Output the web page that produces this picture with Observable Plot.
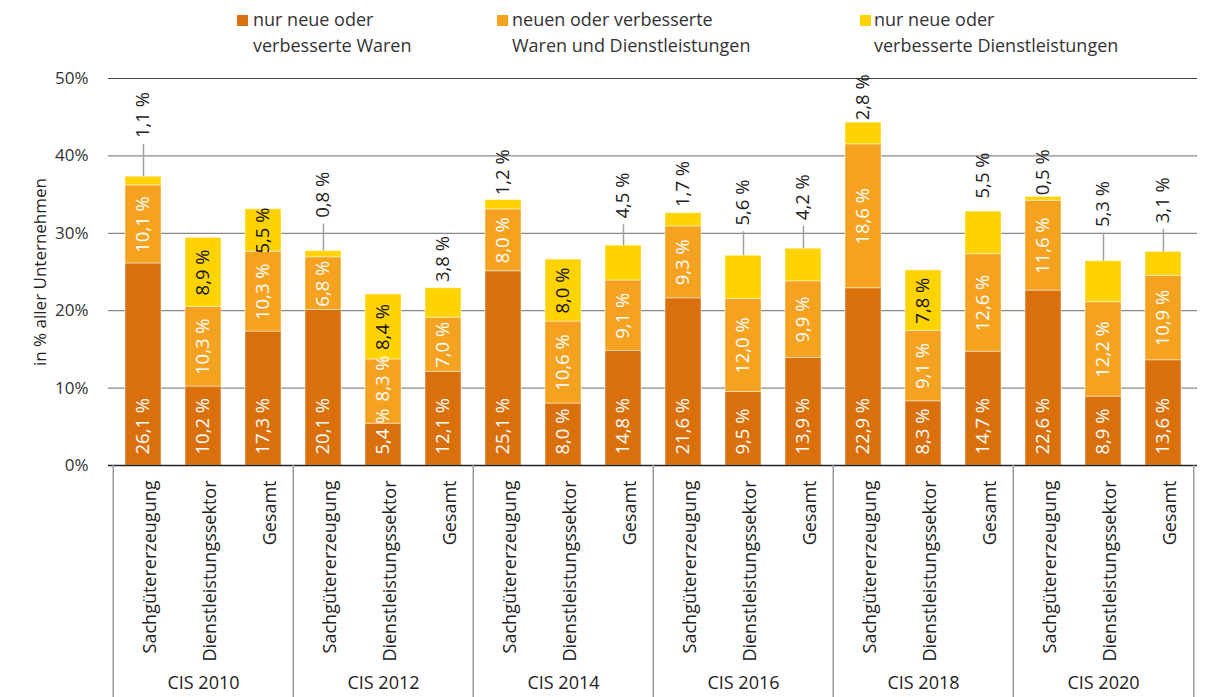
<!DOCTYPE html>
<html>
<head>
<meta charset="utf-8">
<script src="https://cdn.jsdelivr.net/npm/d3@7"></script>
<script src="https://cdn.jsdelivr.net/npm/@observablehq/plot@0.6"></script>
<style>
  html, body { margin: 0; padding: 0; background: #fff; }
  body { font-family: "Open Sans", sans-serif; color: #333; width: 1207px; height: 697px; overflow: hidden; }
  #legend { position: relative; height: 65px; font-size: 18px; }
  .sw { position: absolute; top: 15px; width: 11px; height: 11px; }
  .lt { position: absolute; top: 6px; line-height: 26px; white-space: nowrap; color: #333; }
  #chart svg { display: block; }
</style>
</head>
<body>
<div id="legend"></div>
<div id="chart"></div>
<script>
// ---- data ----
const groups = ["CIS 2010", "CIS 2012", "CIS 2014", "CIS 2016", "CIS 2018", "CIS 2020"];
const sectors = ["Sachgütererzeugung", "Dienstleistungssektor", "Gesamt"];
const seriesNames = [
  "nur neue oder verbesserte Waren",
  "neuen oder verbesserte Waren und Dienstleistungen",
  "nur neue oder verbesserte Dienstleistungen"
];
const legendLines = [
  ["nur neue oder", "verbesserte Waren"],
  ["neuen oder verbesserte", "Waren und Dienstleistungen"],
  ["nur neue oder", "verbesserte Dienstleistungen"]
];
// values per group, in order Sachgütererzeugung, Dienstleistungssektor, Gesamt
const onlyGoods        = [26.1, 10.2, 17.3,  20.1, 5.4, 12.1,  25.1, 8.0, 14.8,  21.6, 9.5, 13.9,  22.9, 8.3, 14.7,  22.6, 8.9, 13.6];
const goodsAndServices = [10.1, 10.3, 10.3,   6.8, 8.3,  7.0,   8.0, 10.6, 9.1,   9.3, 12.0, 9.9,  18.6, 9.1, 12.6,  11.6, 12.2, 10.9];
const onlyServices     = [ 1.1,  8.9,  5.5,   0.8, 8.4,  3.8,   1.2, 8.0,  4.5,   1.7, 5.6,  4.2,   2.8, 7.8,  5.5,   0.5, 5.3,  3.1];
const yTicks = [0, 10, 20, 30, 40, 50];
// callout lift of the "nur Dienstleistungen" labels above the bar top (percentage points; 0 = label inside segment)
const servicesLabelLift = [5.0, 0, 0,  4.3, 0, 0.8,  0.6, 0, 3.5,  0.8, 3.9, 3.7,  0.3, 0, 1.7,  0.2, 4.4, 3.7];
// nudge of the middle-series labels (percentage points) where they would collide with the label below
const midLabelNudge = [0, 0, 0,  0, 1.7, 0,  0, 0, 0,  0, 0, 0,  0, 0, 0,  0, 0, 0];

// ---- styling ----
const colors = ["#D9700B", "#F4A21F", "#FFD300"];
const W = 1207, H = 632, ML = 108, MR = 10, MT = 13, MB = 232;
const LBL = 18.5;

// ---- legend ----
const legendPos = [[237, 253], [497, 512], [860, 874]];
const legend = document.getElementById("legend");
legendLines.forEach((lines, i) => {
  const sw = document.createElement("div");
  sw.className = "sw"; sw.style.left = legendPos[i][0] + "px"; sw.style.background = colors[i];
  const t = document.createElement("div");
  t.className = "lt"; t.style.left = legendPos[i][1] + "px";
  t.innerHTML = lines.join("<br>");
  legend.appendChild(sw); legend.appendChild(t);
});

// ---- build table ----
const keys = groups.flatMap(g => sectors.map(s => `${g}|${s}`));
const seriesValues = [onlyGoods, goodsAndServices, onlyServices];
const rows = [];
keys.forEach((k, i) => {
  let base = 0;
  seriesValues.forEach((vals, s) => {
    rows.push({key: k, series: seriesNames[s], si: s, value: vals[i], base,
      lift: s === 2 ? servicesLabelLift[i] : 0, nudge: s === 1 ? midLabelNudge[i] : 0});
    base += vals[i];
  });
});
const totals = keys.map((k, i) => ({key: k, value: onlyServices[i], total: onlyGoods[i] + goodsAndServices[i] + onlyServices[i], lift: servicesLabelLift[i]}));
const fmt = v => v.toFixed(1).replace(".", ",") + " %";

const step = (W - ML - MR) / keys.length;
const groupFirst = groups.map(g => `${g}|${sectors[0]}`);
const groupMid = groups.map(g => `${g}|${sectors[1]}`);
const lastKey = [keys[keys.length - 1]];

const darkRows = rows.filter(d => d.si === 0);
const midRows = rows.filter(d => d.si === 1);
const yInside = rows.filter(d => d.si === 2 && d.lift === 0);
const yOutside = totals.filter(d => d.lift > 0);
const leaders = totals.filter(d => d.lift > 2);

const chart = Plot.plot({
  width: W, height: H,
  marginLeft: ML, marginRight: MR, marginTop: MT, marginBottom: MB,
  style: {fontFamily: "Open Sans, sans-serif", color: "#333", background: "#fff"},
  x: {type: "band", domain: keys, paddingInner: 0.405, paddingOuter: 0.2025, align: 0.5},
  y: {domain: [0, 50]},
  color: {domain: seriesNames, range: colors},
  marks: [
    Plot.gridY(yTicks.slice(1, -1), {stroke: "#888", strokeOpacity: 1, strokeWidth: 1.3}),
    Plot.gridY(yTicks.slice(-1), {stroke: "#444", strokeOpacity: 1, strokeWidth: 1.2}),
    Plot.axisY(yTicks, {tickSize: 0, tickPadding: 20, tickFormat: d => d + "%", fontSize: 17, fill: "#333", label: null}),
    Plot.barY(rows, {x: "key", y: "value", fill: "series", stroke: "#fff", strokeOpacity: 0.45, strokeWidth: 1}),
    Plot.ruleY([0], {stroke: "#222", strokeWidth: 1.3}),
    Plot.ruleX(groupFirst, {x: d => d, y1: 0, y2: -30, dx: -step / 2, stroke: "#999", strokeWidth: 1.5}),
    Plot.ruleX(lastKey, {x: d => d, y1: 0, y2: -30, dx: step / 2, stroke: "#999", strokeWidth: 1.5}),
    Plot.axisX({tickSize: 0, tickPadding: 15, rotate: -90, textAnchor: "end", fontSize: 18, fill: "#222",
      tickFormat: k => k.split("|")[1], label: null}),
    Plot.text(groups, {x: (g, i) => groupMid[i], frameAnchor: "bottom", dy: 223, fontSize: 18, fill: "#222", text: d => d}),
    Plot.text(["in % aller Unternehmen"], {frameAnchor: "left", rotate: -90, textAnchor: "middle", dx: -68, fontSize: 17, fill: "#222", text: d => d}),
    // segment labels
    Plot.text(darkRows, {x: "key", y: 0, text: d => fmt(d.value), rotate: -90, textAnchor: "start", dy: -11, fill: "#fff", fontSize: LBL}),
    Plot.text(midRows, {x: "key", y: d => d.base + d.value / 2 + d.nudge, text: d => fmt(d.value), rotate: -90, fill: "#fff", fontSize: LBL}),
    Plot.text(yInside, {x: "key", y: d => d.base + d.value / 2, text: d => fmt(d.value), rotate: -90, fill: "#111", fontSize: LBL}),
    Plot.ruleX(leaders, {x: "key", y1: "total", y2: d => d.total + d.lift - 0.8, stroke: "#a0a0a0", strokeWidth: 1.5}),
    Plot.text(yOutside, {x: "key", y: d => d.total + d.lift, text: d => fmt(d.value), rotate: -90, textAnchor: "start", fill: "#222", fontSize: LBL})
  ]
});
document.getElementById("chart").appendChild(chart);
</script>
</body>
</html>
